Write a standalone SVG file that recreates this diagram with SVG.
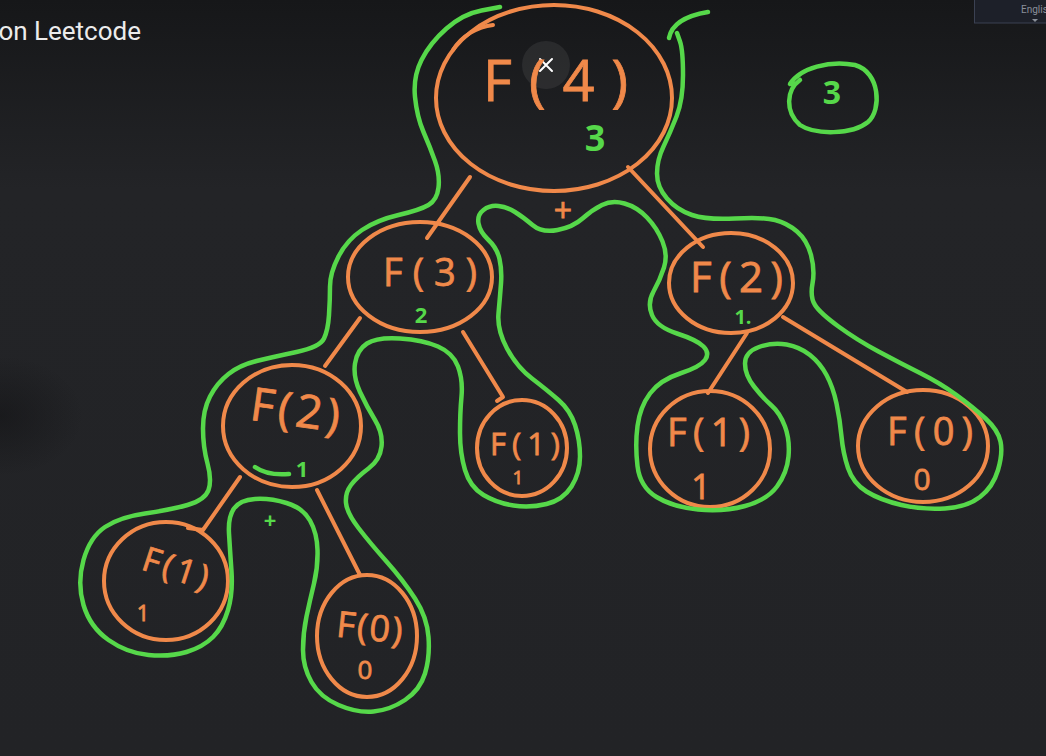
<svg xmlns="http://www.w3.org/2000/svg" width="1046" height="756" viewBox="0 0 1046 756">
<defs>
<linearGradient id="bg" x1="0" y1="0" x2="0" y2="1">
<stop offset="0" stop-color="#161719"/>
<stop offset="0.25" stop-color="#232427"/>
<stop offset="1" stop-color="#222326"/>
</linearGradient>
<radialGradient id="shade" cx="0" cy="0.55" r="0.08" gradientUnits="objectBoundingBox">
<stop offset="0" stop-color="#0e0e10" stop-opacity="0.45"/>
<stop offset="1" stop-color="#0e0e10" stop-opacity="0"/>
</radialGradient>
<style>
.o{fill:none;stroke:#f0894a;stroke-width:4;stroke-linecap:round;stroke-linejoin:round}
.g{fill:none;stroke:#56d84a;stroke-width:4.5;stroke-linecap:round;stroke-linejoin:round}
.lbl{fill:#f0894a;stroke:#f0894a;stroke-width:0.8;font-family:"Open Sans","DejaVu Sans",sans-serif}
.gl{fill:#56d84a;font-family:"Open Sans","DejaVu Sans",sans-serif;font-weight:bold}
</style>
</defs>
<rect width="1046" height="756" fill="url(#bg)"/>
<rect width="1046" height="756" fill="url(#shade)"/>

<g id="header">
<text x="141" y="40" text-anchor="end" font-family="Roboto,'Liberation Sans',sans-serif" font-size="26" fill="#ececec">on Leetcode</text>
<rect x="974.5" y="-1" width="72" height="24" fill="#1d2029" stroke="#3b4152" stroke-width="1"/>
<text x="1021" y="13" font-family="Roboto,'Liberation Sans',sans-serif" font-size="10" fill="#8a8f99">Englis</text>
<path d="M1032,19 L1038,19 L1035,22 Z" fill="#8a8f99"/>
<circle cx="546" cy="65" r="24" fill="#ffffff" fill-opacity="0.07"/>
<path d="M540,59 L552,71 M552,59 L540,71" stroke="#ffffff" stroke-width="2" stroke-linecap="round"/>
</g>

<g id="connectors">
<path class="o" d="M470,177 L427,238"/>
<path class="o" d="M628,167 L703,247"/>
<path class="o" d="M360,318 L325,366"/>
<path class="o" d="M463,332 L503,397 L497,401"/>
<path class="o" d="M747,333 L708,393"/>
<path class="o" d="M783,317 L907,392"/>
<path class="o" d="M240,477 L203,530 L188,528"/>
<path class="o" d="M317,490 L360,575"/>
<text x="563" y="222" text-anchor="middle" class="lbl" font-size="32">+</text>
</g>

<g id="node-f4">
<ellipse class="o" cx="554" cy="98" rx="118" ry="93"/>
<path class="o" d="M453,50 C462,35 478,27 493,25"/>
<text x="483" y="101" class="lbl" font-size="56" textLength="145" lengthAdjust="spacing">F(4)</text>
<text x="595" y="151" text-anchor="middle" class="gl" font-size="36">3</text>
</g>

<g id="node-f3">
<ellipse class="o" cx="420" cy="277" rx="72" ry="55"/>
<text x="383" y="286" class="lbl" font-size="38" textLength="94" lengthAdjust="spacing">F(3)</text>
<text x="421" y="323" text-anchor="middle" class="gl" font-size="22">2</text>
</g>

<g id="node-f2-right">
<ellipse class="o" cx="731" cy="283" rx="62" ry="50"/>
<text x="690" y="292" class="lbl" font-size="42" textLength="93" lengthAdjust="spacing">F(2)</text>
<text x="743" y="324" text-anchor="middle" class="gl" font-size="20">1.</text>
</g>

<g id="node-f2-left">
<ellipse class="o" cx="292" cy="426" rx="69" ry="61"/>
<text x="250" y="426" class="lbl" font-size="46" textLength="90" lengthAdjust="spacing" transform="rotate(8 295 413)">F(2)</text>
<path class="g" d="M255,467 C265,474 278,475 289,474"/>
<text x="302" y="477" text-anchor="middle" class="gl" font-size="22">1</text>
</g>

<g id="node-f1-mid">
<ellipse class="o" cx="522" cy="448" rx="45" ry="48"/>
<text x="490" y="455" class="lbl" font-size="31" textLength="70" lengthAdjust="spacing">F(1)</text>
<text x="518" y="484" text-anchor="middle" class="lbl" font-size="19">1</text>
</g>

<g id="node-f1-right">
<ellipse class="o" cx="710" cy="449" rx="60" ry="58"/>
<text x="667" y="446" class="lbl" font-size="38" textLength="83" lengthAdjust="spacing">F(1)</text>
<text x="701" y="499" text-anchor="middle" class="lbl" font-size="34">1</text>
</g>

<g id="node-f0-right">
<ellipse class="o" cx="923" cy="446" rx="65" ry="56"/>
<text x="887" y="445" class="lbl" font-size="38" textLength="86" lengthAdjust="spacing">F(0)</text>
<text x="922" y="490" text-anchor="middle" class="lbl" font-size="30">0</text>
</g>

<g id="node-f1-bottom-left">
<ellipse class="o" cx="166" cy="581" rx="62" ry="59"/>
<text x="142" y="580" class="lbl" font-size="34" textLength="68" lengthAdjust="spacing" transform="rotate(18 176 568)">F(1)</text>
<text x="143" y="621" text-anchor="middle" class="lbl" font-size="22">1</text>
</g>

<g id="node-f0-bottom">
<ellipse class="o" cx="367" cy="636" rx="50" ry="61"/>
<text x="337" y="640" class="lbl" font-size="36" textLength="66" lengthAdjust="spacing" transform="rotate(6 370 625)">F(0)</text>
<text x="365" y="679" text-anchor="middle" class="lbl" font-size="26">0</text>
</g>

<g id="traversal">
<path class="g" d="M500,7 L481.5,10.5 Q463,14 446.5,28.5 Q430,43 421.5,60 Q413,77 415,97 Q417,117 423.5,132 Q430,147 435,161 Q440,175 438.5,187.5 Q437,200 428.5,205 Q420,210 398.5,215 Q377,220 362,230 Q347,240 338.5,256.5 Q330,273 330,286.5 Q330,300 329,315 Q328,330 324,338.5 Q320,347 296.5,352 Q273,357 256.5,361 Q240,365 228.5,374 Q217,383 210,396.5 Q203,410 203,428.5 Q203,447 207.5,463.5 Q212,480 208.5,490 Q205,500 187.5,505 Q170,510 145,513.5 Q120,517 105,527 Q90,537 83.5,560 Q77,583 83.5,605 Q90,627 108.5,640 Q127,653 148.5,655 Q170,657 186.5,652 Q203,647 213,637 Q223,627 228,610 Q233,593 231.5,571.5 Q230,550 229,533.5 Q228,517 234,508.5 Q240,500 255,499 Q270,498 286.5,503 Q303,508 310,520.5 Q317,533 317.5,550 Q318,567 314,583.5 Q310,600 306.5,616.5 Q303,633 303,650 Q303,667 311.5,682 Q320,697 338.5,705 Q357,713 373.5,711.5 Q390,710 405,700 Q420,690 425,673.5 Q430,657 428.5,637 Q427,617 415,598.5 Q403,580 386.5,561.5 Q370,543 358.5,528 Q347,513 346,503 Q345,493 351,485 Q357,477 368.5,468.5 Q380,460 381.5,446.5 Q383,433 375,420 Q367,407 360,392 Q353,377 355,363.5 Q357,350 367,343.5 Q377,337 400,338.5 Q423,340 438,346.5 Q453,353 458,366.5 Q463,380 461.5,396.5 Q460,413 460,433 Q460,453 465,470 Q470,487 483.5,495 Q497,503 513.5,505.5 Q530,508 546.5,504 Q563,500 571.5,486.5 Q580,473 580,456.5 Q580,440 575,425 Q570,410 558.5,400 Q547,390 532,378.5 Q517,367 507,348.5 Q497,330 498.5,313.5 Q500,297 501,283.5 Q502,270 499.5,259 Q497,248 488.5,240 Q480,232 478.5,223.5 Q477,215 483.5,210 Q490,205 498.5,206 Q507,207 515,212 Q523,217 532.5,225 Q542,233 557.5,230 Q573,227 582.5,218.5 Q592,210 602,205 Q612,200 624.5,203.5 Q637,207 647,217.5 Q657,228 662.5,241.5 Q668,255 664,267.5 Q660,280 653.5,291.5 Q647,303 652,315 Q657,327 677,333.5 Q697,340 703.5,346.5 Q710,353 705,360 Q700,367 680,373.5 Q660,380 650,393.5 Q640,407 637.5,426 Q635,445 637.5,466 Q640,487 656.5,497 Q673,507 698,509.5 Q723,512 745,506 Q767,500 777,486.5 Q787,473 788.5,456.5 Q790,440 785,426.5 Q780,413 771.5,405.5 Q763,398 754,386.5 Q745,375 745,363.5 Q745,352 759,347 Q773,342 786.5,344.5 Q800,347 810,355 Q820,363 826.5,375 Q833,387 836.5,403.5 Q840,420 841.5,436.5 Q843,453 848,468 Q853,483 866.5,491.5 Q880,500 901.5,505 Q923,510 945,508.5 Q967,507 980,497 Q993,487 998,470 Q1003,453 1000.5,441.5 Q998,430 985.5,418.5 Q973,407 956.5,395 Q940,383 920,373 Q900,363 878.5,351.5 Q857,340 838.5,326.5 Q820,313 815,305 Q810,297 812.5,283.5 Q815,270 811,255 Q807,240 797,231.5 Q787,223 775,220 Q763,217 735,218.5 Q707,220 692,215 Q677,210 667,198.5 Q657,187 657,173.5 Q657,160 663.5,146.5 Q670,133 676.5,116.5 Q683,100 683,75 Q683,50 680,41.5 L677,33"/>
<path class="g" d="M669,38 C672,22 690,15 708,12"/>
<text x="270" y="528" text-anchor="middle" class="gl" font-size="22">+</text>
</g>

<g id="result">
<path class="g" d="M790,84 C800,68 830,60 855,65 C880,72 882,110 868,122 C852,135 815,135 800,125 C785,112 786,90 800,80"/>
<text x="832" y="104" text-anchor="middle" class="gl" font-size="32" font-weight="normal">3</text>
</g>
</svg>
